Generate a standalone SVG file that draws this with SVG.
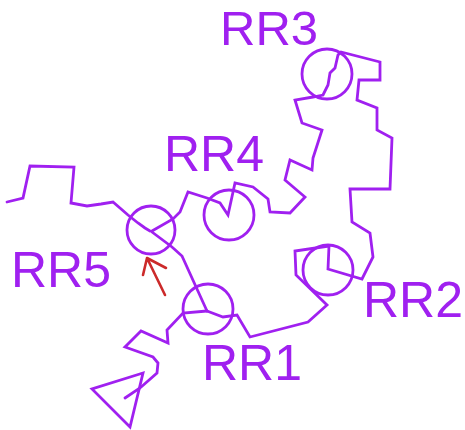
<svg xmlns="http://www.w3.org/2000/svg" width="465" height="430" viewBox="0 0 465 430">
<style>
.bb{fill:none;stroke:#a020f0;stroke-width:2.8;stroke-linejoin:miter;stroke-linecap:round}
.rr circle{fill:none;stroke:#a020f0;stroke-width:2.8}
.lbl{font-family:"Liberation Sans",Arial,sans-serif;font-size:50px;fill:#a020f0}
.red{fill:none;stroke:#cc2a2a;stroke-width:2.6;stroke-linecap:round;stroke-linejoin:round}
</style>
<rect width="465" height="430" fill="#fff"/>
<g id="connectors">
<polyline class="bb" points="7,202 23,198 30,166 74,167 71,203 87,206 101,204 113,202 128,215 138,223 145,228 150,231"/>
<polyline class="bb" points="152,231 173,219 180,212 188,192 207,198 220,203 228,215 235,183 253,187 268,199 270,212 290,213 305,197 285,180 290,160 312,170 313,158 322,130 302,123 295,100 313,97 323,95 328,85 330,73 335,68 338,55 341,52 380,62 380,80 359,80 357,100 377,108 377,130 392,138 390,189 350,189 352,222 370,233 373,257 362,279 328,269 329,246 295,251 296,275 327,305 308,322 250,337 237,315 223,317 207,311"/>
<polyline class="bb" points="152,232 172,247 182,256 207,311"/>
<polyline class="bb" points="207,311 183,313 167,330 168,343 141,331 125,347 153,357 158,363 157,373 140,388 125,398"/>
<polygon class="bb" points="143,373 92,389 130,427"/>
<path class="red" d="M165,295 L147,258 M143,275 L147,258 L166,268"/>
</g>
<g id="RR1" class="rr"><circle cx="208" cy="309" r="25"/><text class="lbl" x="202" y="380">RR1</text></g>
<g id="RR2" class="rr"><circle cx="328" cy="270" r="25"/><text class="lbl" x="363" y="317">RR2</text></g>
<g id="RR3" class="rr"><circle cx="327" cy="74" r="25"/><text class="lbl" x="220" y="45" style="font-size:49px">RR3</text></g>
<g id="RR4" class="rr"><circle cx="229" cy="215" r="25"/><text class="lbl" x="164" y="171">RR4</text></g>
<g id="RR5" class="rr"><circle cx="151" cy="230" r="24"/><text class="lbl" x="11" y="287">RR5</text></g>
</svg>
